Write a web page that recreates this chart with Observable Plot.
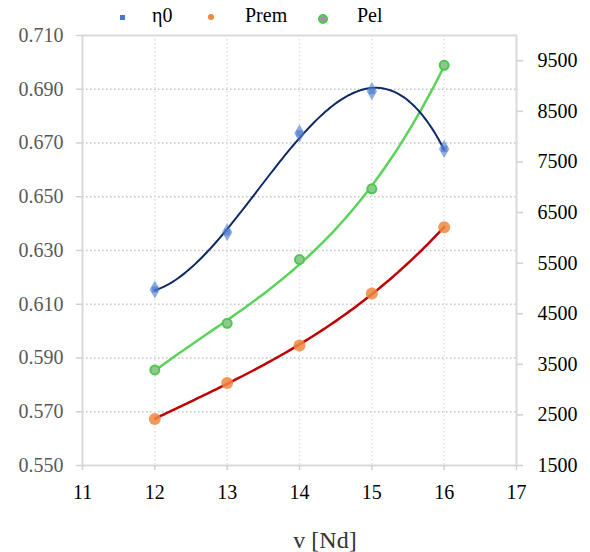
<!DOCTYPE html>
<html>
<head>
<meta charset="utf-8">
<script src="https://cdn.jsdelivr.net/npm/d3@7"></script>
<script src="https://cdn.jsdelivr.net/npm/@observablehq/plot@0.6"></script>
<style>
  html, body { margin: 0; padding: 0; background: #fff; }
  body { width: 590px; height: 552px; overflow: hidden; font-family: 'Liberation Serif'; }
  #legend { position: relative; height: 28px; font-size: 20px; color: #000; font-family: 'Liberation Serif'; }
  #legend .item { position: absolute; top: 3px; line-height: 24px; font-family: 'Liberation Serif'; }
  #legend .mk { position: absolute; }
  #xlabel { position: relative; height: 40px; font-size: 24px; color: #333; font-family: 'Liberation Serif'; }
  #xlabel span { position: absolute; left: 325px; top: 14px; transform: translateX(-50%); line-height: 28px; }
  #chart svg, #chart svg text { font-family: 'Liberation Serif' !important; }
</style>
</head>
<body>
<div id="legend"></div>
<div id="chart"></div>
<div id="xlabel"><span>v [Nd]</span></div>
<script>
// ---- data ----
const vNd = [12, 13, 14, 15, 16];
const eta0 = [0.6155, 0.6368, 0.6736, 0.6893, 0.6678];
const prem = [2420, 3130, 3870, 4900, 6210];
const pel = [3390, 4310, 5570, 6970, 9410];
const seriesNames = ["η0", "Prem", "Pel"];
const xTicks = [11, 12, 13, 14, 15, 16, 17];
const leftTicks = [0.55, 0.57, 0.59, 0.61, 0.63, 0.65, 0.67, 0.69, 0.71];
const rightTicks = [1500, 2500, 3500, 4500, 5500, 6500, 7500, 8500, 9500];
const leftDomain = [0.55, 0.71];
const rightDomain = [1500, 10000];
const colors = { eta: "#0d2a66", etaDot: "#4a78cc", prem: "#c00000", premDot: "#f0883e", pel: "#5ad35a", pelDot: "#4cc84c" };

// map right-axis values onto the left y scale
const toL = v => leftDomain[0] + (v - rightDomain[0]) / (rightDomain[1] - rightDomain[0]) * (leftDomain[1] - leftDomain[0]);
const toR = y => rightDomain[0] + (y - leftDomain[0]) / (leftDomain[1] - leftDomain[0]) * (rightDomain[1] - rightDomain[0]);

const dEta = vNd.map((x, i) => ({ x, y: eta0[i] }));
const dPrem = vNd.map((x, i) => ({ x, y: toL(prem[i]) }));
const dPel = vNd.map((x, i) => ({ x, y: toL(pel[i]) }));

// cubic polynomial trendline (least squares), as in the original chart
function polyTrend(data, order) {
  const x0 = d3.mean(data, d => d.x);
  const n = order + 1;
  const A = Array.from({ length: n }, () => new Array(n + 1).fill(0));
  for (const d of data) {
    const t = d.x - x0;
    for (let r = 0; r < n; r++) {
      for (let c = 0; c < n; c++) A[r][c] += Math.pow(t, r + c);
      A[r][n] += Math.pow(t, r) * d.y;
    }
  }
  for (let i = 0; i < n; i++) {
    let p = i;
    for (let k = i + 1; k < n; k++) if (Math.abs(A[k][i]) > Math.abs(A[p][i])) p = k;
    [A[i], A[p]] = [A[p], A[i]];
    for (let k = i + 1; k < n; k++) {
      const f = A[k][i] / A[i][i];
      for (let c = i; c <= n; c++) A[k][c] -= f * A[i][c];
    }
  }
  const coef = new Array(n).fill(0);
  for (let i = n - 1; i >= 0; i--) {
    let s = A[i][n];
    for (let c = i + 1; c < n; c++) s -= A[i][c] * coef[c];
    coef[i] = s / A[i][i];
  }
  const [lo, hi] = d3.extent(data, d => d.x);
  return d3.range(0, 101).map(k => {
    const x = lo + (hi - lo) * k / 100;
    const t = x - x0;
    return { x, y: coef.reduce((s, a, i) => s + a * Math.pow(t, i), 0) };
  });
}

// ---- legend ----
const legend = document.getElementById("legend");
legend.innerHTML = `
  <div class="mk" style="left:120px;top:15px;width:5px;height:5px;background:#4a78cc;filter:blur(0.4px)"></div>
  <div class="item" style="left:152px">${seriesNames[0]}</div>
  <div class="mk" style="left:208px;top:14px;width:6px;height:6px;border-radius:50%;background:#f0883e"></div>
  <div class="item" style="left:245px">${seriesNames[1]}</div>
  <div class="mk" style="left:318px;top:14px;width:6px;height:6px;border-radius:50%;background:#9a9a9a;border:2px solid #4cc84c"></div>
  <div class="item" style="left:357px">${seriesNames[2]}</div>`;

// ---- chart ----
const plot = Plot.plot({
  width: 590,
  height: 484,
  marginTop: 7,
  marginBottom: 47,
  marginLeft: 82,
  marginRight: 74,
  style: { fontFamily: "'Liberation Serif'", fontSize: "20px", background: "#fff", overflow: "visible" },
  x: { domain: [xTicks[0], xTicks[xTicks.length - 1]] },
  y: { domain: leftDomain },
  marks: [
    Plot.gridY(leftTicks.slice(1, -1), { stroke: "#c4c4c4", strokeOpacity: 1, strokeWidth: 1.5, strokeDasharray: "1.5,2.5" }),
    Plot.gridX(xTicks.slice(1, -1), { stroke: "#e0e0e0", strokeOpacity: 1, strokeWidth: 1.5, strokeDasharray: "1.5,2.5" }),
    Plot.frame({ stroke: "#d9d9d9", strokeWidth: 2 }),
    Plot.axisY(leftTicks, { anchor: "left", tickFormat: d3.format(".3f"), tickSize: 6, tickPadding: 13, stroke: "#d0d0d0", strokeWidth: 1.5, fill: "#595959", fontFamily: "Liberation Serif", fontSize: 20, label: null }),
    Plot.axisY(rightTicks.map(toL), { anchor: "right", tickFormat: d => String(Math.round(toR(d))), tickSize: 6, tickPadding: 15, stroke: "#d0d0d0", strokeWidth: 1.5, fill: "#000", fontFamily: "Liberation Serif", fontSize: 20, label: null }),
    Plot.axisX(xTicks, { anchor: "bottom", tickFormat: d => String(d), tickSize: 5, tickPadding: 14, stroke: "#d0d0d0", strokeWidth: 1.5, fill: "#000", fontFamily: "Liberation Serif", fontSize: 20, label: null }),
    Plot.line(polyTrend(dPel, 3), { x: "x", y: "y", stroke: colors.pel, strokeWidth: 2.5 }),
    Plot.line(polyTrend(dPrem, 3), { x: "x", y: "y", stroke: colors.prem, strokeWidth: 2.5 }),
    Plot.line(polyTrend(dEta, 3), { x: "x", y: "y", stroke: colors.eta, strokeWidth: 2 }),
    Plot.dot(dEta, { x: "x", y: "y", symbol: "diamond", r: 5.5, fill: colors.etaDot, fillOpacity: 0.6 }),
    Plot.dot(dEta, { x: "x", y: "y", symbol: "square", r: 3.5, fill: colors.etaDot, fillOpacity: 0.6 }),
    Plot.dot(dPrem, { x: "x", y: "y", r: 6, fill: colors.premDot, fillOpacity: 0.85 }),
    Plot.dot(dPel, { x: "x", y: "y", r: 4.5, fill: "#8fc88f", stroke: colors.pelDot, strokeWidth: 2 })
  ]
});
document.getElementById("chart").appendChild(plot);
</script>
</body>
</html>
